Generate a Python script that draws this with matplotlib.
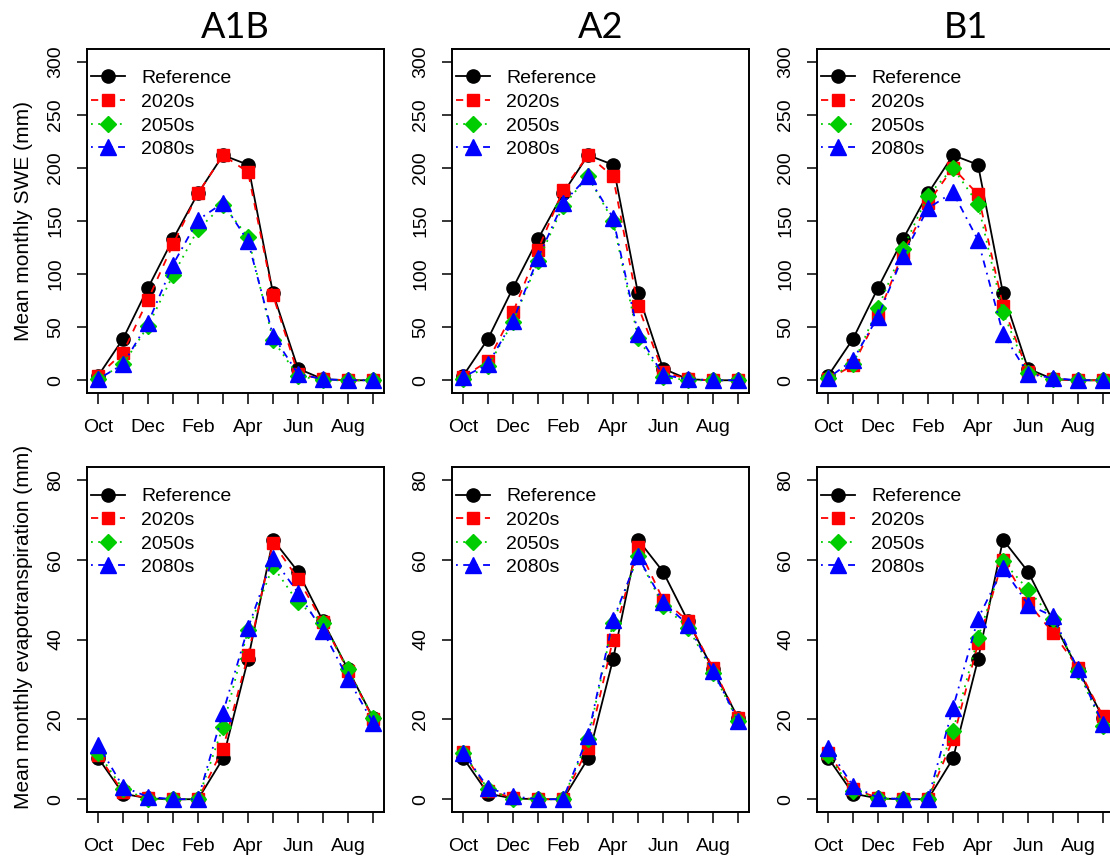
import matplotlib
matplotlib.use('Agg')
import matplotlib.pyplot as plt

plt.rcParams['font.family'] = ['Liberation Sans', 'DejaVu Sans']

months = ['Oct', 'Nov', 'Dec', 'Jan', 'Feb', 'Mar', 'Apr', 'May', 'Jun', 'Jul', 'Aug', 'Sep']
scenarios = ['A1B', 'A2', 'B1']
series_names = ['Reference', '2020s', '2050s', '2080s']

# mean monthly SWE (mm)
swe_ref = [4, 39, 87, 133, 176, 212, 203, 82, 11, 1, 0, 0]
swe_a1b_2020 = [4, 26, 76, 128, 176, 212, 196, 80, 6, 1, 0, 0]
swe_a1b_2050 = [1, 15, 51, 99, 142, 165, 135, 38, 4, 0, 0, 0]
swe_a1b_2080 = [1, 15, 54, 109, 151, 167, 131, 42, 6, 1, 0, 0]
swe_a2_2020 = [3, 18, 64, 123, 179, 212, 192, 70, 8, 1, 0, 0]
swe_a2_2050 = [1, 13, 55, 112, 164, 192, 150, 40, 3, 0, 0, 0]
swe_a2_2080 = [3, 15, 56, 115, 167, 192, 153, 44, 5, 1, 0, 0]
swe_b1_2020 = [1, 14, 61, 120, 167, 200, 175, 70, 8, 1, 0, 0]
swe_b1_2050 = [2, 15, 68, 124, 174, 200, 166, 64, 7, 1, 0, 0]
swe_b1_2080 = [2, 19, 60, 117, 162, 177, 132, 44, 6, 2, 0, 0]

# mean monthly evapotranspiration (mm)
et_ref = [10.4, 1.4, 0.2, 0, 0, 10.2, 35, 65, 57, 44.6, 32.5, 20.4]
et_a1b_2020 = [11.2, 1.7, 0.2, 0, 0, 12.7, 36, 64.2, 55.2, 44.3, 32.2, 20.2]
et_a1b_2050 = [11.7, 2.5, 0, 0, 0, 18.2, 42.3, 58.3, 49.3, 44.2, 32.7, 20.4]
et_a1b_2080 = [13.7, 3.1, 0.6, 0, 0, 21.7, 42.9, 60.4, 51.7, 42.1, 30.2, 19.2]
et_a2_2020 = [11.8, 2.1, 0.4, 0, 0, 12.9, 40, 63.2, 50, 44.6, 32.9, 20.4]
et_a2_2050 = [11.7, 2.5, 0, 0, 0, 15, 44.2, 60.8, 48.5, 43, 31.7, 19.6]
et_a2_2080 = [11.7, 2.9, 0.7, 0, 0, 15.8, 44.8, 60.8, 49.3, 43.7, 32.1, 19.7]
et_b1_2020 = [11.7, 2.5, 0.4, 0, 0, 15, 39, 60, 49.2, 41.7, 32.9, 20.8]
et_b1_2050 = [11.2, 2.1, 0.2, 0, 0, 17.1, 40.4, 59.6, 52.5, 45.2, 32.1, 18.3]
et_b1_2080 = [12.9, 3.3, 0.4, 0, 0, 22.9, 45.2, 57.9, 48.75, 45.8, 32.5, 18.75]

swe = {
    'A1B': [swe_ref, swe_a1b_2020, swe_a1b_2050, swe_a1b_2080],
    'A2': [swe_ref, swe_a2_2020, swe_a2_2050, swe_a2_2080],
    'B1': [swe_ref, swe_b1_2020, swe_b1_2050, swe_b1_2080],
}
et = {
    'A1B': [et_ref, et_a1b_2020, et_a1b_2050, et_a1b_2080],
    'A2': [et_ref, et_a2_2020, et_a2_2050, et_a2_2080],
    'B1': [et_ref, et_b1_2020, et_b1_2050, et_b1_2080],
}

# R-like styles: col, lty, pch
styles = [
    dict(color='black', linestyle='-', marker='o', ms=9.5),
    dict(color='#FF0000', linestyle=(0, (4, 4)), marker='s', ms=9),
    dict(color='#00CD00', linestyle=(0, (1, 3)), marker='D', ms=8.5),
    dict(color='#0000FF', linestyle=(0, (1, 3, 4, 3)), marker='^', ms=11.5),
]

W, H = 1110, 863
fig = plt.figure(figsize=(W / 100, H / 100), dpi=100)

col_left = [87, 452, 817]
row_top = [49, 467]
row_bot = [393, 812]
AX_W = 297

x = list(range(1, 13))
xlabels = [m if i % 2 == 0 else '' for i, m in enumerate(months)]


def make_axes(col, row):
    l = col_left[col]
    ax = fig.add_axes([l / W, 1 - row_bot[row] / H, AX_W / W,
                       (row_bot[row] - row_top[row]) / H])
    for sp in ax.spines.values():
        sp.set_linewidth(1.4)
    return ax


for row, (data, ymax, ystep, ylab) in enumerate([
        (swe, 300, 50, 'Mean monthly SWE (mm)'),
        (et, 80, 20, 'Mean monthly evapotranspiration (mm)')]):
    for col, sc in enumerate(scenarios):
        ax = make_axes(col, row)
        lines = []
        for vals, st, name in zip(data[sc], styles, series_names):
            ln, = ax.plot(x, vals, lw=1.3, mec=st['color'], mfc=st['color'],
                          label=name, **st)
            lines.append(ln)
        ax.set_xlim(1 - 0.44, 12 + 0.44)
        ax.set_ylim(-0.04 * ymax, 1.04 * ymax)
        ax.set_xticks(x)
        ax.set_xticklabels(xlabels, fontsize=14)
        ax.set_yticks(range(0, ymax + 1, ystep))
        ax.set_yticklabels([str(v) for v in range(0, ymax + 1, ystep)],
                           fontsize=14, rotation=90, va='center')
        ax.tick_params(axis='x', length=8, width=1.1, pad=11)
        ax.tick_params(axis='y', length=7.5, width=1.1, pad=9)
        ax.legend(handles=lines, loc='upper left', frameon=False, fontsize=14,
                  handlelength=1.75, handletextpad=0.8, labelspacing=0.31,
                  borderaxespad=0.0, borderpad=0.0, bbox_to_anchor=(0.015, 0.94))
        if row == 0:
            ax.set_title(sc, fontsize=26, family='Lato', pad=8)
        if col == 0:
            ax.set_ylabel(ylab, fontsize=15)
            ax.yaxis.set_label_coords(-0.182, 0.5 if row == 0 else 0.535)

fig.savefig('out.png', dpi=100)
